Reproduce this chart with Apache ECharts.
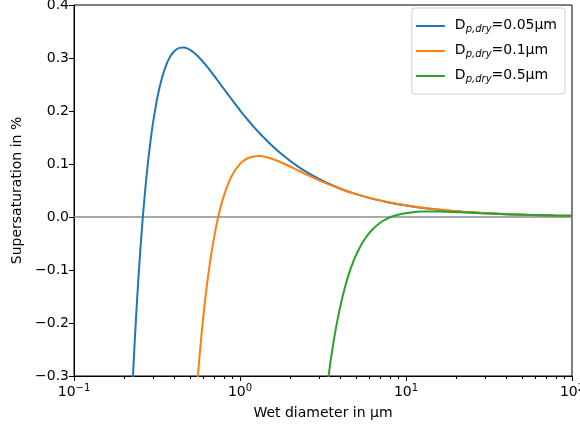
<!DOCTYPE html>
<html>
<head>
<meta charset="utf-8">
<script src="https://cdn.jsdelivr.net/npm/echarts@6/dist/echarts.min.js"></script>
<style>
  html, body { margin: 0; padding: 0; background: #fff; }
  #chart { width: 580px; height: 432px; }
</style>
</head>
<body>
<div id="chart"></div>
<script>
// Köhler curves: equilibrium supersaturation over a solution droplet
// for three dry particle diameters.

const seriesNames = ['0.05', '0.1', '0.5'];
const seriesColors = ['#1f77b4', '#ff7f0e', '#2ca02c'];

// Dp,dry = 0.05 µm
const diam005 = [0.226, 0.232, 0.24, 0.25, 0.26, 0.27, 0.28, 0.29, 0.30, 0.32, 0.34, 0.36, 0.38, 0.40, 0.43, 0.46, 0.48, 0.50, 0.52, 0.55, 0.575, 0.60, 0.63, 0.67, 0.71, 0.75, 0.80, 0.85, 0.92, 1.0, 1.1, 1.2, 1.3, 1.4, 1.55, 1.7, 1.85, 2.0, 2.25, 2.5, 2.8, 3.2, 4.0, 5.0, 6.5, 8.0, 10, 13, 17, 22, 30, 40, 55, 75, 100];
const sat005  = [-0.3074, -0.2366, -0.1547, -0.0691, 0.0012, 0.0593, 0.1073, 0.1470, 0.1800, 0.2301, 0.2643, 0.2875, 0.3027, 0.3122, 0.3190, 0.3198, 0.3182, 0.3154, 0.3117, 0.3051, 0.2990, 0.2925, 0.2846, 0.2739, 0.2635, 0.2534, 0.2415, 0.2304, 0.2161, 0.2014, 0.1854, 0.1716, 0.1595, 0.1490, 0.1354, 0.1241, 0.1145, 0.1062, 0.0947, 0.0855, 0.0765, 0.0671, 0.0538, 0.0431, 0.0332, 0.0270, 0.0216, 0.0166, 0.0127, 0.0098, 0.0072, 0.0054, 0.0039, 0.0029, 0.0022];

// Dp,dry = 0.1 µm
const diam01 = [0.555, 0.57, 0.59, 0.61, 0.63, 0.66, 0.70, 0.74, 0.78, 0.83, 0.90, 1.0, 1.1, 1.2, 1.3, 1.45, 1.65, 1.9, 2.2, 2.6, 3.2, 4.0, 5.0, 6.5, 8.0, 10, 13, 17, 22, 30, 40, 55, 75, 100];
const sat01  = [-0.3076, -0.2638, -0.2130, -0.1694, -0.1318, -0.0849, -0.0362, 0.0008, 0.0290, 0.0551, 0.0799, 0.1002, 0.1101, 0.1142, 0.1150, 0.1127, 0.1070, 0.0986, 0.0890, 0.0781, 0.0653, 0.0533, 0.0432, 0.0335, 0.0274, 0.0220, 0.0169, 0.0130, 0.0100, 0.0074, 0.0055, 0.0040, 0.0029, 0.0022];

// Dp,dry = 0.5 µm
const diam05 = [3.38, 3.5, 3.65, 3.8, 4.0, 4.25, 4.5, 4.8, 5.2, 5.7, 6.3, 7.0, 7.7, 8.5, 9.5, 11, 12.5, 14, 16, 19, 23, 28, 35, 45, 60, 80, 100];
const sat05  = [-0.3104, -0.2753, -0.2379, -0.2064, -0.1716, -0.1371, -0.1102, -0.0853, -0.0608, -0.0397, -0.0231, -0.0108, -0.0032, 0.0023, 0.0062, 0.0091, 0.0102, 0.0104, 0.0102, 0.0095, 0.0084, 0.0072, 0.0060, 0.0047, 0.0036, 0.0027, 0.0022];

// Axis ranges and tick values
const xRange = [0.1, 100];
const yTicks = [-0.3, -0.2, -0.1, 0.0, 0.1, 0.2, 0.3, 0.4];
const xMinorTicks = [0.2, 0.3, 0.4, 0.5, 0.6, 0.7, 0.8, 0.9, 2, 3, 4, 5, 6, 7, 8, 9, 20, 30, 40, 50, 60, 70, 80, 90];
const zeroLevel = 0;

const FONT = 'DejaVu Sans';
const pairs = (xs, ys) => xs.map((x, i) => [x, ys[i]]);
const minus = s => s.replace('-', '\u2212');

const curves = [pairs(diam005, sat005), pairs(diam01, sat01), pairs(diam05, sat05)];

const chart = echarts.init(document.getElementById('chart'), null, { renderer: 'canvas' });

const lineSeries = curves.map((d, i) => ({
  name: seriesNames[i],
  type: 'line',
  data: d,
  smooth: 0.2,
  symbol: 'none',
  showSymbol: false,
  clip: true,
  z: 3,
  lineStyle: { color: seriesColors[i], width: 2 },
  itemStyle: { color: seriesColors[i] }
}));

chart.setOption({
  animation: false,
  backgroundColor: '#fff',
  textStyle: { fontFamily: FONT },
  grid: {
    left: 74, right: 8, top: 5, bottom: 56,
    outerBoundsMode: 'none',
    show: true, borderColor: '#000', borderWidth: 1, backgroundColor: 'transparent'
  },
  legend: {
    orient: 'vertical',
    right: 15, top: 8,
    data: seriesNames,
    icon: 'rect',
    backgroundColor: 'rgba(255,255,255,0.8)',
    borderColor: '#cccccc', borderWidth: 1, borderRadius: 3,
    padding: [10, 8, 10, 4],
    itemWidth: 29, itemHeight: 2, itemGap: 9,
    formatter: n => '{d|D}{sub|p,dry}{d|=' + n + 'µm}',
    textStyle: {
      color: '#000', fontFamily: FONT, padding: [0, 0, 0, 5],
      rich: {
        d: { fontSize: 14, fontFamily: FONT, color: '#000', lineHeight: 16, verticalAlign: 'top' },
        sub: { fontSize: 10, fontFamily: FONT, fontStyle: 'italic', color: '#000', lineHeight: 8, verticalAlign: 'bottom' }
      }
    }
  },
  xAxis: {
    type: 'log', logBase: 10,
    min: xRange[0], max: xRange[1],
    name: 'Wet diameter in µm',
    nameLocation: 'middle', nameGap: 30,
    nameTextStyle: { fontSize: 14, fontFamily: FONT, color: '#000' },
    axisLine: { show: true, onZero: false, lineStyle: { color: '#000', width: 1 } },
    axisTick: { show: true, inside: false, length: 5, lineStyle: { color: '#000', width: 1 } },
    splitLine: { show: false },
    axisLabel: {
      show: true, margin: 7, showMinLabel: true, showMaxLabel: true,
      formatter: v => '{b|10}{s|' + minus(String(Math.round(Math.log10(v)))) + '}',
      rich: {
        b: { fontSize: 14, fontFamily: FONT, color: '#000', lineHeight: 16, verticalAlign: 'bottom' },
        s: { fontSize: 10, fontFamily: FONT, color: '#000', lineHeight: 10, verticalAlign: 'top' }
      }
    }
  },
  yAxis: {
    type: 'value',
    min: yTicks[0], max: yTicks[yTicks.length - 1], interval: 0.1,
    name: 'Supersaturation in %',
    nameLocation: 'middle', nameGap: 48, nameRotate: 90,
    nameTextStyle: { fontSize: 14, fontFamily: FONT, color: '#000' },
    axisLine: { show: true, lineStyle: { color: '#000', width: 1 } },
    axisTick: { show: true, inside: false, length: 5, lineStyle: { color: '#000', width: 1 } },
    splitLine: { show: false },
    axisLabel: {
      margin: 5, fontSize: 14, fontFamily: FONT, color: '#000',
      formatter: v => minus(v.toFixed(1))
    }
  },
  series: [
    {
      name: 'zero',
      type: 'line',
      data: xRange.map(x => [x, zeroLevel]),
      symbol: 'none', showSymbol: false, silent: true, z: 2,
      lineStyle: { color: '#8c8c8c', width: 1.6 }
    },
    {
      name: 'minorTicks',
      type: 'custom',
      silent: true, z: 4,
      data: xMinorTicks.map(x => [x, yTicks[0]]),
      renderItem: (params, api) => {
        const p = api.coord([api.value(0), api.value(1)]);
        return {
          type: 'line',
          shape: { x1: Math.round(p[0]) + 0.5, y1: p[1], x2: Math.round(p[0]) + 0.5, y2: p[1] + 3 },
          style: { stroke: '#000', lineWidth: 1 }
        };
      }
    },
    ...lineSeries
  ]
});
</script>
</body>
</html>
